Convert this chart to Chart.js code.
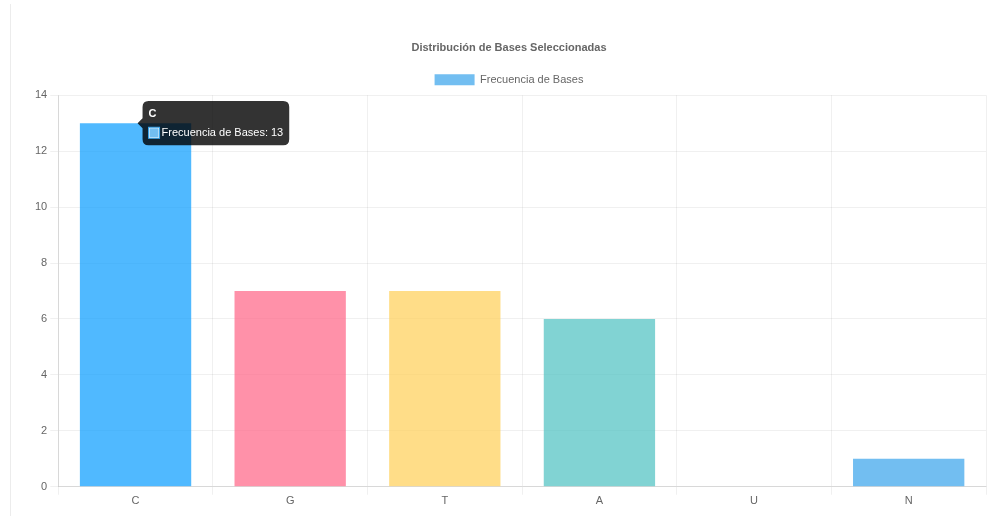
<!DOCTYPE html>
<html lang="es">
<head>
<meta charset="utf-8">
<title>Distribución de Bases</title>
<script src="https://cdn.jsdelivr.net/npm/chart.js@4.4.0/dist/chart.umd.min.js"></script>
<style>
    html, body { margin: 0; padding: 0; background: #fff; }
    .chart-card {
        position: absolute;
        left: 10px;
        top: 4px;
        width: 978px;
        height: 512px;
        border-left: 1px solid #ececec;
    }
</style>
</head>
<body>
<div class="chart-card">
    <canvas id="basesChart"></canvas>
</div>
<script>
    // Bases y su frecuencia
    const bases = ['C', 'G', 'T', 'A', 'U', 'N'];
    const frecuencias = [13, 7, 7, 6, 0, 1];
    const coloresFondo = [
        'rgba(54, 162, 235, 0.7)',
        'rgba(255, 99, 132, 0.7)',
        'rgba(255, 206, 86, 0.7)',
        'rgba(75, 192, 192, 0.7)',
        'rgba(153, 102, 255, 0.7)',
        'rgba(54, 162, 235, 0.7)'
    ];
    const coloresBorde = [
        'rgba(54, 162, 235, 1)',
        'rgba(255, 99, 132, 1)',
        'rgba(255, 206, 86, 1)',
        'rgba(75, 192, 192, 1)',
        'rgba(153, 102, 255, 1)',
        'rgba(54, 162, 235, 1)'
    ];

    document.addEventListener('DOMContentLoaded', function() {
        const ctx = document.getElementById('basesChart').getContext('2d');
        Chart.defaults.font.size = 11;
        Chart.defaults.color = '#666';

        const basesChart = new Chart(ctx, {
            type: 'bar',
            data: {
                labels: bases,
                datasets: [{
                    label: 'Frecuencia de Bases',
                    data: frecuencias,
                    backgroundColor: coloresFondo,
                    borderColor: coloresBorde,
                    borderWidth: 0
                }]
            },
            options: {
                responsive: true,
                maintainAspectRatio: false,
                animation: false,
                layout: {
                    padding: { top: 27, left: 21, right: 3, bottom: 8 }
                },
                plugins: {
                    title: {
                        display: true,
                        text: 'Distribución de Bases Seleccionadas',
                        font: { size: 11, weight: 'bold' }
                    },
                    tooltip: {
                        bodyFont: { size: 11 },
                        titleFont: { size: 11 }
                    }
                },
                scales: {
                    x: {
                        grid: { color: 'rgba(0, 0, 0, 0.06)' },
                        ticks: { padding: 0 }
                    },
                    y: {
                        beginAtZero: true,
                        max: 14,
                        grid: { color: 'rgba(0, 0, 0, 0.06)' },
                        ticks: { stepSize: 2 }
                    }
                }
            }
        });

        // Mostrar el tooltip de la primera base
        const activos = [{ datasetIndex: 0, index: 0 }];
        basesChart.setActiveElements(activos);
        basesChart.tooltip.setActiveElements(activos, { x: 0, y: 0 });
        basesChart.update();
    });
</script>
</body>
</html>
